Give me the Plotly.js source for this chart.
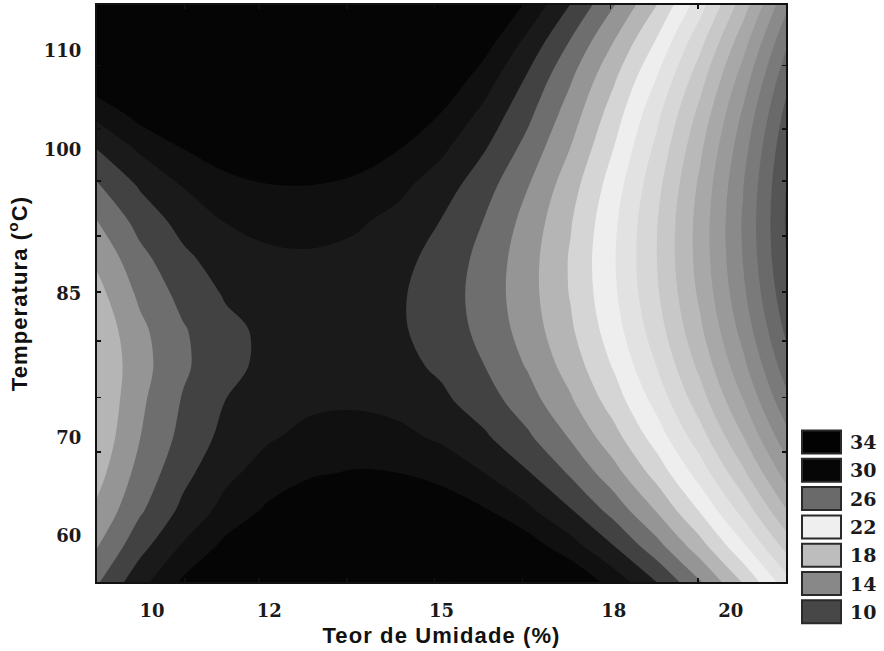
<!DOCTYPE html>
<html>
<head>
<meta charset="utf-8">
<script src="https://cdn.plot.ly/plotly-3.0.1.min.js"></script>
<style>
  html, body { margin: 0; padding: 0; background: #ffffff; }
  #chart { width: 884px; height: 651px; }
  .xtitle, .ytitle { letter-spacing: 1.1px; }
</style>
</head>
<body>
<div id="chart"></div>
<script>
// Coded design levels (axes run from -2 to +2 in coded units)
const xCoded = [-2, -1.75, -1.5, -1.25, -1, -0.75, -0.5, -0.25, 0, 0.25, 0.5, 0.75, 1, 1.25, 1.5, 1.75, 2];
const yCoded = [-2, -1.75, -1.5, -1.25, -1, -0.75, -0.5, -0.25, 0, 0.25, 0.5, 0.75, 1, 1.25, 1.5, 1.75, 2];

// Tick labels at coded positions (-1.68, -1, 0, 1, 1.68)
const xTickPos = [-1.68, -1, 0, 1, 1.68];
const xTickText = ['10', '12', '15', '18', '20'];
const yTickPos = [-1.68, -1, 0, 1, 1.68];
const yTickText = ['60', '70', '85', '100', '110'];

// Response (rows: y from -2 to 2; columns: x from -2 to 2)
const zRow00 = [26.88, 28.66, 30.16, 31.38, 32.31, 32.96, 33.33, 33.41, 33.22, 32.74, 31.98, 30.93, 29.60, 27.99, 26.10, 23.93, 21.47];
const zRow01 = [25.94, 27.66, 29.11, 30.27, 31.15, 31.75, 32.06, 32.09, 31.84, 31.31, 30.49, 29.40, 28.01, 26.35, 24.41, 22.18, 19.67];
const zRow02 = [25.18, 26.85, 28.24, 29.35, 30.18, 30.72, 30.98, 30.96, 30.66, 30.07, 29.20, 28.05, 26.61, 24.90, 22.90, 20.62, 18.05];
const zRow03 = [24.64, 26.36, 27.72, 28.77, 29.48, 29.92, 30.09, 30.02, 29.66, 29.02, 28.10, 26.89, 25.40, 23.63, 21.58, 19.24, 16.62];
const zRow04 = [24.28, 25.99, 27.31, 28.31, 28.91, 29.28, 29.39, 29.26, 28.85, 28.16, 27.18, 25.92, 24.38, 22.55, 20.45, 18.06, 15.39];
const zRow05 = [24.09, 25.81, 27.09, 28.03, 28.55, 28.83, 28.88, 28.70, 28.23, 27.48, 26.45, 25.14, 23.54, 21.67, 19.50, 17.06, 14.34];
const zRow06 = [24.07, 25.63, 26.83, 27.72, 28.26, 28.54, 28.56, 28.32, 27.80, 27.00, 25.91, 24.55, 22.90, 20.97, 18.75, 16.26, 13.48];
const zRow07 = [24.26, 25.77, 26.91, 27.75, 28.23, 28.46, 28.42, 28.13, 27.56, 26.70, 25.56, 24.14, 22.44, 20.45, 18.19, 15.64, 12.80];
const zRow08 = [24.66, 26.21, 27.33, 28.11, 28.47, 28.59, 28.48, 28.13, 27.50, 26.59, 25.40, 23.93, 22.17, 20.13, 17.81, 15.21, 12.32];
const zRow09 = [25.22, 26.72, 27.79, 28.52, 28.82, 28.88, 28.72, 28.32, 27.64, 26.68, 25.43, 23.90, 22.09, 20.00, 17.62, 14.97, 12.02];
const zRow10 = [25.97, 27.36, 28.36, 29.04, 29.32, 29.36, 29.15, 28.70, 27.96, 26.95, 25.65, 24.07, 22.20, 20.05, 17.62, 14.91, 11.92];
const zRow11 = [26.88, 28.12, 29.05, 29.67, 29.97, 29.99, 29.77, 29.26, 28.48, 27.41, 26.05, 24.42, 22.50, 20.30, 17.81, 15.05, 12.00];
const zRow12 = [28.00, 29.14, 29.99, 30.56, 30.85, 30.86, 30.58, 30.02, 29.18, 28.05, 26.65, 24.96, 22.98, 20.73, 18.19, 15.38, 12.27];
const zRow13 = [29.32, 30.40, 31.20, 31.72, 31.96, 31.91, 31.58, 30.91, 29.97, 28.73, 27.26, 25.52, 23.52, 21.26, 18.72, 15.87, 12.73];
const zRow14 = [30.83, 31.86, 32.61, 33.07, 33.25, 33.15, 32.76, 32.00, 30.94, 29.50, 27.90, 26.13, 24.17, 21.99, 19.43, 16.56, 13.38];
const zRow15 = [32.53, 33.50, 34.20, 34.61, 34.73, 34.58, 34.14, 33.26, 32.10, 30.46, 28.74, 26.94, 25.01, 22.90, 20.33, 17.43, 14.22];
const zRow16 = [34.42, 35.34, 35.98, 36.33, 36.40, 36.19, 35.70, 34.72, 33.45, 31.60, 29.81, 27.96, 26.06, 24.00, 21.43, 18.49, 15.25];
const zGrid = [zRow00, zRow01, zRow02, zRow03, zRow04, zRow05, zRow06, zRow07, zRow08,
               zRow09, zRow10, zRow11, zRow12, zRow13, zRow14, zRow15, zRow16];

// Legend entries
const legendLevels = ['34', '30', '26', '22', '18', '14', '10'];
const legendColors = ['#020202', '#060606', '#6a6a6a', '#efefef', '#bdbdbd', '#888888', '#474747'];

// Contour levels
const levelStart = 11, levelEnd = 35, levelStep = 1;
// Fill colour of each region: below 11, [11,12], ..., [34,35], above 35
const bandColors = [
  '#3a3a3a', '#444444', '#555555', '#6a6a6a', '#7a7a7a', '#8a8a8a', '#9a9a9a',
  '#a8a8a8', '#b9b9b9', '#c8c8c8', '#d7d7d7', '#e2e2e2', '#eeeeee', '#d5d5d5',
  '#b5b5b5', '#959595', '#6e6e6e', '#424242', '#1a1a1a', '#101010', '#050505',
  '#050505', '#050505', '#050505', '#050505', '#050505'
];
const nLev = Math.round((levelEnd - levelStart) / levelStep) + 1;
const colorscale = bandColors.map((c, j) => [j / nLev, c]);

const trace = {
  type: 'contour',
  x: xCoded,
  y: yCoded,
  z: zGrid,
  autocontour: false,
  contours: { start: levelStart, end: levelEnd, size: levelStep, coloring: 'fill', showlines: false },
  line: { width: 0, smoothing: 1 },
  colorscale: colorscale,
  showscale: false,
  hoverinfo: 'x+y+z'
};

// Layout geometry (pixels)
const W = 884, H = 651;
const mL = 97, mR = 98, mT = 5, mB = 69;
const plotW = W - mL - mR, plotH = H - mT - mB;
const px2paperX = p => (p - mL) / plotW;
const py2paperY = p => (H - mB - p) / plotH;

const shapes = [];
const annotations = [];
const boxX0 = 802, boxX1 = 841, boxH = 23, rowGap = 28.3, firstCenter = 442;
legendLevels.forEach((lab, i) => {
  const cy = firstCenter + i * rowGap;
  shapes.push({
    type: 'rect', xref: 'paper', yref: 'paper',
    x0: px2paperX(boxX0), x1: px2paperX(boxX1),
    y0: py2paperY(cy + boxH / 2), y1: py2paperY(cy - boxH / 2),
    fillcolor: legendColors[i], line: { color: '#2a2a2a', width: 2 }
  });
  annotations.push({
    xref: 'paper', yref: 'paper', x: px2paperX(848), y: py2paperY(cy),
    xanchor: 'left', yanchor: 'middle', showarrow: false, text: lab,
    font: { family: 'DejaVu Serif', size: 19, color: '#1a1a1a', weight: 'bold' }
  });
});

const tickFont = { family: 'DejaVu Serif', size: 18, color: '#1a1a1a', weight: 'bold' };
const titleFont = { family: 'Liberation Sans', size: 22, color: '#111111', weight: 'bold' };

const layout = {
  width: W, height: H,
  margin: { l: mL, r: mR, t: mT, b: mB, pad: 0 },
  paper_bgcolor: '#ffffff',
  plot_bgcolor: '#ffffff',
  showlegend: false,
  xaxis: {
    range: [-2, 2], tickmode: 'array', tickvals: xTickPos, ticktext: xTickText,
    ticks: '', showgrid: false, zeroline: false,
    showline: true, mirror: 'allticks', linecolor: '#111111', linewidth: 2,
    tickfont: tickFont, ticklabelstandoff: 11,
    minor: { tickvals: [-1.49, -1.06, -0.55, -0.04, 0.47, 0.98, 1.49], ticks: 'inside', ticklen: 4, tickcolor: '#111', tickwidth: 1.5 },
    title: { text: 'Teor de Umidade (%)', font: titleFont, standoff: 8 },
    fixedrange: true
  },
  yaxis: {
    range: [-2, 2], tickmode: 'array', tickvals: yTickPos, ticktext: yTickText,
    ticks: '', showgrid: false, zeroline: false,
    showline: true, mirror: 'allticks', linecolor: '#111111', linewidth: 2,
    tickfont: tickFont, ticklabelstandoff: 10,
    minor: { tickvals: [1.58, 1.14, 0.78, 0.40, 0.01, -0.33, -0.72, -1.10], ticks: 'inside', ticklen: 4, tickcolor: '#111', tickwidth: 1.5 },
    title: { text: 'Temperatura (<sup>o</sup>C)', font: titleFont, standoff: 10 },
    fixedrange: true
  },
  shapes: shapes,
  annotations: annotations
};

Plotly.newPlot('chart', [trace], layout, { displayModeBar: false, staticPlot: true });
</script>
</body>
</html>
